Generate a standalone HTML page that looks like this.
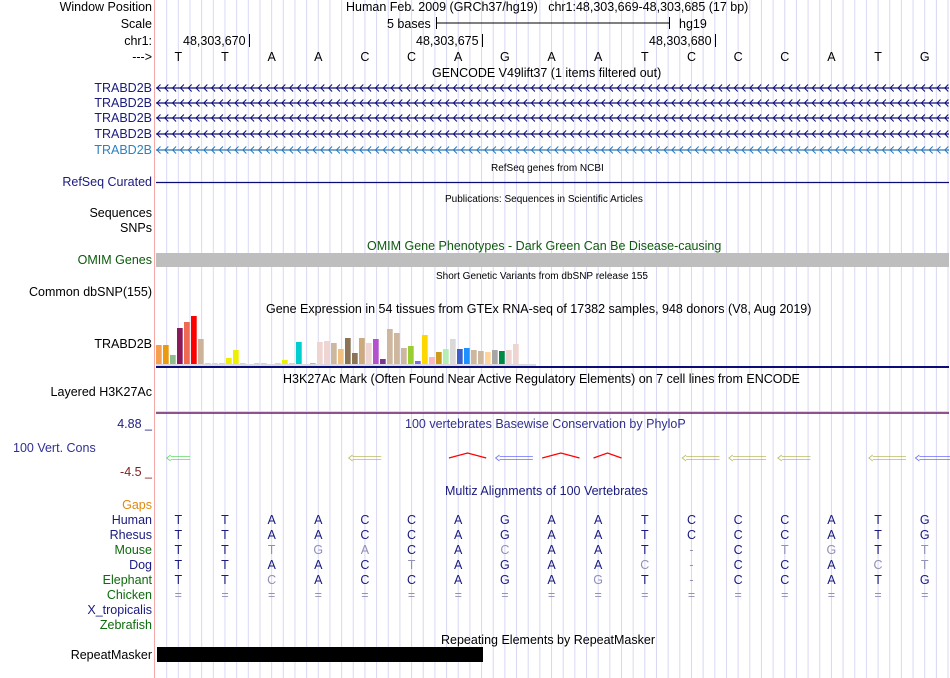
<!DOCTYPE html>
<html><head><meta charset="utf-8">
<style>
body{margin:0;background:#fff;width:950px;height:678px;overflow:hidden;position:relative;font-family:"Liberation Sans",sans-serif;}
.t{position:absolute;font-size:12.5px;line-height:14px;white-space:nowrap;}
.l{position:absolute;right:798px;font-size:12.5px;line-height:14px;white-space:nowrap;text-align:right;}
.s{font-size:10px;}
svg{position:absolute;left:0;top:0;}
</style></head>
<body>
<svg id="g" width="950" height="678"></svg>

<div class="l" style="top:0px">Window Position</div>
<div class="l" style="top:17px">Scale</div>
<div class="l" style="top:34px">chr1:</div>
<div class="l" style="top:50px">---&gt;</div>
<div class="t" style="left:346px;top:0px">Human Feb. 2009 (GRCh37/hg19)&nbsp;&nbsp;&nbsp;chr1:48,303,669-48,303,685 (17 bp)</div>
<div class="t" style="left:387px;top:17px">5 bases</div>
<div class="t" style="left:679px;top:17px">hg19</div>
<div class="t" style="left:183px;top:34px">48,303,670</div>
<div class="t" style="left:416px;top:34px">48,303,675</div>
<div class="t" style="left:649px;top:34px">48,303,680</div>
<div class="t" style="left:432px;top:66px">GENCODE V49lift37 (1 items filtered out)</div>
<div class="l" style="top:81px;color:#1a1a80">TRABD2B</div>
<div class="l" style="top:96px;color:#1a1a80">TRABD2B</div>
<div class="l" style="top:111px;color:#1a1a80">TRABD2B</div>
<div class="l" style="top:127px;color:#1a1a80">TRABD2B</div>
<div class="l" style="top:143px;color:#2a82c0">TRABD2B</div>
<div class="t s" style="left:491px;top:162px">RefSeq genes from NCBI</div>
<div class="l" style="top:175px;color:#1a1a80">RefSeq Curated</div>
<div class="t s" style="left:445px;top:193px">Publications: Sequences in Scientific Articles</div>
<div class="l" style="top:206px">Sequences</div>
<div class="l" style="top:221px">SNPs</div>
<div class="t" style="left:367px;top:239px;color:#0d5a0d">OMIM Gene Phenotypes - Dark Green Can Be Disease-causing</div>
<div class="l" style="top:253px;color:#0d5a0d">OMIM Genes</div>
<div class="t s" style="left:436px;top:270px">Short Genetic Variants from dbSNP release 155</div>
<div class="l" style="top:285px">Common dbSNP(155)</div>
<div class="t" style="left:266px;top:302px">Gene Expression in 54 tissues from GTEx RNA-seq of 17382 samples, 948 donors (V8, Aug 2019)</div>
<div class="l" style="top:337px">TRABD2B</div>
<div class="t" style="left:283px;top:372px">H3K27Ac Mark (Often Found Near Active Regulatory Elements) on 7 cell lines from ENCODE</div>
<div class="l" style="top:385px">Layered H3K27Ac</div>
<div class="l" style="top:417px;color:#202080">4.88 _</div>
<div class="t" style="left:405px;top:417px;color:#303090">100 vertebrates Basewise Conservation by PhyloP</div>
<div class="t" style="left:13px;top:441px;color:#303090">100 Vert. Cons</div>
<div class="l" style="top:465px;color:#802020">-4.5 _</div>
<div class="t" style="left:445px;top:484px;color:#1a1a80">Multiz Alignments of 100 Vertebrates</div>
<div class="l" style="top:498px;color:#e08a10">Gaps</div>
<div class="l" style="top:513px;color:#1a1a80">Human</div>
<div class="l" style="top:528px;color:#1a1a80">Rhesus</div>
<div class="l" style="top:543px;color:#0d6a0d">Mouse</div>
<div class="l" style="top:558px;color:#1a1a80">Dog</div>
<div class="l" style="top:573px;color:#0d6a0d">Elephant</div>
<div class="l" style="top:588px;color:#0d6a0d">Chicken</div>
<div class="l" style="top:603px;color:#1a1a80">X_tropicalis</div>
<div class="l" style="top:618px;color:#0d6a0d">Zebrafish</div>
<div class="t" style="left:441px;top:633px">Repeating Elements by RepeatMasker</div>
<div class="l" style="top:648px">RepeatMasker</div>

<script>
const bases = ["T","T","A","A","C","C","A","G","A","A","T","C","C","C","A","T","G"];
const rhesus = ["T","T","A","A","C","C","A","G","A","A","T","C","C","C","A","T","G"];
const mouse = ["T","T","T","G","A","C","A","C","A","A","T","-","C","T","G","T","T"];
const dog = ["T","T","A","A","C","T","A","G","A","A","C","-","C","C","A","C","T"];
const elephant = ["T","T","C","A","C","C","A","G","A","G","T","-","C","C","A","T","G"];
const gtexValues = [19,19,9,36,42,48,25,1,1,1,6,14,1,0,1,1,0,1,4,1,22,0,1,22,23,21,15,26,11,26,21,25,5,35,31,16,18,3,29,7,12,15,25,15,16,14,13,12,14,13,14,20,0,0];
const gtexColors = ["#f5a050","#e89a10","#8fbc8f","#8b1a5a","#ee6a50","#ff0000","#ccb39a","#eeee00","#eeee00","#eeee00","#eeee00","#eeee00","#eeee00","#eeee00","#eeee00","#eeee00","#eeee00","#eeee00","#eeee00","#eeee00","#00cdcd","#9ac0cd","#9ac0cd","#eed5d2","#eed5d2","#cdb79e","#f0c080","#8b7355","#8b7355","#cdaa7d","#eed5d2","#b452cd","#7a378b","#cdb79e","#cdb79e","#cdb79e","#9acd32","#7b68ee","#ffd700","#ffb6c1","#cd9b1d","#b4eeb4","#d9d9d9","#3a5fcd","#1e90ff","#cdb79e","#cdb79e","#ffd39b","#a6a6a6","#008b45","#eed5d2","#eed5d2","#eed5d2","#eed5d2"];
const consMarks = [[0,0.5,"#22cc22"],[4,0.7,"#a0a020"],[6.2,0.8,"#ff0000"],[7.2,0.8,"#3030ff"],[8.2,0.8,"#ff0000"],[9.2,0.6,"#ff0000"],[11.2,0.8,"#a0a020"],[12.2,0.8,"#a0a020"],[13.2,0.7,"#a0a020"],[15.2,0.8,"#a0a020"],[16.2,0.8,"#3030ff"]];

const NS="http://www.w3.org/2000/svg";
const g=document.getElementById('g');
const X0=155, BW=46.65;
const bx=i=>X0+BW*(i+0.5);
function mk(tag,attrs,parent){const e=document.createElementNS(NS,tag);for(const k in attrs)e.setAttribute(k,attrs[k]);(parent||g).appendChild(e);return e;}

for(let k=1;k<=68;k++){const x=X0+BW/4*k; if(x>949)break;
 const e=mk('line',{x1:x,x2:x,y1:0,y2:678,stroke:'#d8d8f4','stroke-width':1});
 
 }
const pl=mk('line',{x1:154.5,x2:154.5,y1:0,y2:678,stroke:'#f4a8a8','stroke-width':1});



mk('line',{x1:436,x2:669,y1:23,y2:23,stroke:'#000'});
mk('line',{x1:436.5,x2:436.5,y1:17,y2:29,stroke:'#000'});
mk('line',{x1:669.5,x2:669.5,y1:17,y2:29,stroke:'#000'});
[249.5,482.5,715.5].forEach(x=>mk('line',{x1:x,x2:x,y1:34,y2:47,stroke:'#000'}));

bases.forEach((b,i)=>{const t=mk('text',{x:bx(i),y:61,'text-anchor':'middle','font-size':12.5,'font-family':'Liberation Sans'});t.textContent=b;
 
 });

[[88,'#0c0c78'],[103,'#0c0c78'],[118,'#0c0c78'],[134,'#0c0c78'],[150,'#2a78b8']].forEach(([y,c],r)=>{
 const grp=mk('g',{});
 
 
 mk('line',{x1:156,x2:949,y1:y,y2:y,stroke:c,'stroke-width':1.3},grp);
 let d='';for(let x=157;x<949;x+=7.8){d+=`M${x+3.5},${y-3.5}L${x},${y}L${x+3.5},${y+3.5}`;}
 mk('path',{d:d,stroke:c,fill:'none','stroke-width':1},grp);
});
const rs=mk('line',{x1:156,x2:949,y1:182.5,y2:182.5,stroke:'#0c0c78','stroke-width':1.3});


const om=mk('rect',{x:156,y:253,width:793,height:14,fill:'#bebebe'});



const gBase=364, gStep=7.0, gX0=156, gScale=1;
mk('rect',{x:156,y:gBase,width:380,height:2,fill:'#dcdcdc'});
gtexValues.forEach((v,i)=>{const h=Math.max(v*gScale,v>0?1:0);
 const r=mk('rect',{x:gX0+i*gStep,y:gBase-h,width:5.7,height:h,fill:gtexColors[i]});
 
 });
mk('line',{x1:156,x2:949,y1:367,y2:367,stroke:'#0c0c78','stroke-width':2});

mk('line',{x1:156,x2:949,y1:411.5,y2:411.5,stroke:'#e8d8b0','stroke-width':1});
mk('line',{x1:156,x2:949,y1:413,y2:413,stroke:'#6a1a6a','stroke-width':1.5});

consMarks.forEach(([p,w,c])=>{const x1=bx(p)-BW*w/2,x2=bx(p)+BW*w/2;
 let e;
 if(c==='#ff0000'){e=mk('path',{d:`M${x1},458L${(x1+x2)/2},453L${x2},458`,stroke:c,fill:'none','stroke-width':1.2});}
 else{e=mk('path',{d:`M${x1+4},456.5L${x2},456.5M${x1+4},459.5L${x2},459.5M${x1+4},455L${x1},458L${x1+4},461`,stroke:c,'stroke-width':0.8,fill:'none',opacity:0.7});}
 
 });

[[bases,524],[rhesus,539],[mouse,554],[dog,569],[elephant,584]].forEach(([arr,y])=>{
 arr.forEach((b,i)=>{const t=mk('text',{x:bx(i),y:y,'text-anchor':'middle','font-size':12.5,'font-family':'Liberation Sans',fill:(b===bases[i]?'#1a1a80':'#9090b8')});t.textContent=b;
 
 });
});
bases.forEach((b,i)=>{const t=mk('text',{x:bx(i),y:599,'text-anchor':'middle','font-size':12.5,'font-family':'Liberation Sans',fill:'#9090b8'});t.textContent='=';
 
 });

const rm=mk('rect',{x:157,y:647,width:326,height:15,fill:'#000'});


</script>
</body></html>
